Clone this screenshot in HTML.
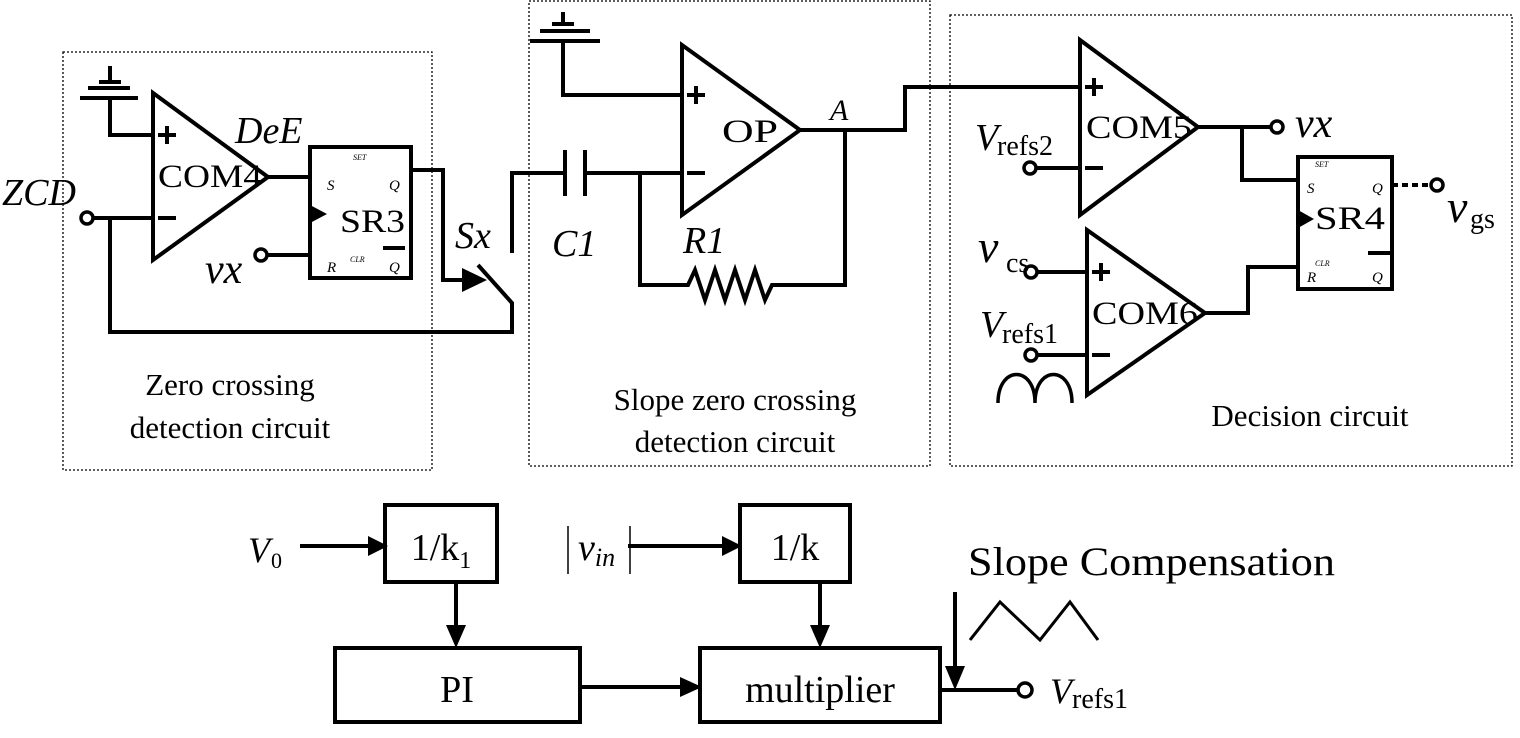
<!DOCTYPE html>
<html><head><style>
html,body{margin:0;padding:0;background:#fff;}
svg{display:block;}
text{font-family:"Liberation Serif",serif;fill:#000;}
</style></head><body>
<svg width="1520" height="738" viewBox="0 0 1520 738" xmlns="http://www.w3.org/2000/svg">
<g fill="none" stroke="#000" stroke-width="1.3" stroke-dasharray="2,2">
<rect x="63" y="52" width="369" height="418"/>
<rect x="529" y="1" width="401" height="465"/>
<rect x="950" y="15" width="562" height="451"/>
</g>
<g fill="none" stroke="#000" stroke-width="4">
<polygon points="153,93 153,260 268,177"/>
<polyline points="110,66 110,82"/>
<polyline points="110,98 110,135 153,135"/>
<line x1="99" y1="82" x2="121" y2="82"/><line x1="88" y1="88" x2="130" y2="88"/><line x1="80" y1="98" x2="138" y2="98"/>
<line x1="93" y1="218" x2="153" y2="218"/>
<polyline points="110,218 110,332 512,332 512,303 478,265"/>
<line x1="268" y1="177" x2="310" y2="177"/>
<rect x="310" y="147" width="101" height="131"/>
<line x1="266" y1="255" x2="310" y2="255"/>
<polyline points="411,170 443,170 443,280 470,280"/>
<polyline points="512,253 512,173 565,173"/>
<line x1="565" y1="150" x2="565" y2="196"/><line x1="585" y1="150" x2="585" y2="196"/>
<line x1="585" y1="173" x2="682" y2="173"/>
<polygon points="682,45 682,215 800,130"/>
<polyline points="563,12 563,24"/>
<polyline points="563,41 563,95 682,95"/>
<line x1="552" y1="24" x2="574" y2="24"/><line x1="540" y1="31" x2="590" y2="31"/><line x1="530" y1="41" x2="600" y2="41"/>
<polyline points="640,173 640,285 688,285 695,270 705,300 715,270 725,300 735,270 745,300 755,270 765,300 772,285 845,285 845,130"/>
<polyline points="800,130 905,130 905,87 1080,87"/>
<polygon points="1080,40 1080,215 1198,127"/>
<line x1="1036" y1="168" x2="1080" y2="168"/>
<line x1="1198" y1="127" x2="1271" y2="127"/>
<polyline points="1242,127 1242,180 1298,180"/>
<rect x="1298" y="157" width="94" height="132"/>
<polygon points="1087,230 1087,395 1205,313"/>
<line x1="1037" y1="272" x2="1087" y2="272"/>
<line x1="1037" y1="355" x2="1087" y2="355"/>
<polyline points="1205,313 1248,313 1248,267 1298,267"/>
<path d="M998,403 C998,365 1035,365 1035,403 C1035,365 1072,365 1072,403" stroke-width="3.5"/>
<rect x="385" y="505" width="112" height="77"/>
<rect x="740" y="505" width="110" height="77"/>
<rect x="335" y="648" width="245" height="74"/>
<rect x="700" y="648" width="240" height="74"/>
<line x1="300" y1="546" x2="370" y2="546"/>
<line x1="628" y1="546" x2="725" y2="546"/>
<line x1="456" y1="582" x2="456" y2="630"/>
<line x1="820" y1="582" x2="820" y2="630"/>
<line x1="580" y1="687" x2="685" y2="687"/>
<line x1="940" y1="690" x2="1019" y2="690"/>
<line x1="955" y1="592" x2="955" y2="670"/>
<polyline points="970,640 1000,602 1040,640 1070,602 1098,640" stroke-width="3"/>
</g>
<line x1="1392" y1="185" x2="1431" y2="185" stroke="#000" stroke-width="4" stroke-dasharray="6,4"/>
<g fill="#000" stroke="none">
<polygon points="310,205 327,214 310,223"/>
<polygon points="1298,210 1314,219 1298,228"/>
<polygon points="462,268 487,280 462,292"/>
<polygon points="368,536 388,546 368,556"/>
<polygon points="722,536 742,546 722,556"/>
<polygon points="446,625 456,648 466,625"/>
<polygon points="810,625 820,648 830,625"/>
<polygon points="680,677 702,687 680,697"/>
<polygon points="945,666 955,690 965,666"/>
<rect x="383" y="246" width="22" height="4"/>
<rect x="1368" y="251" width="22" height="4"/>
<rect x="158" y="133" width="18" height="4"/><rect x="165" y="126" width="4" height="18"/>
<rect x="158" y="216" width="18" height="4"/>
<rect x="687" y="93" width="18" height="4"/><rect x="694" y="86" width="4" height="18"/>
<rect x="687" y="171" width="18" height="4"/>
<rect x="1085" y="85" width="18" height="4"/><rect x="1092" y="78" width="4" height="18"/>
<rect x="1085" y="166" width="18" height="4"/>
<rect x="1092" y="270" width="18" height="4"/><rect x="1099" y="263" width="4" height="18"/>
<rect x="1092" y="353" width="18" height="4"/>
</g>
<g fill="#fff" stroke="#000" stroke-width="3.5">
<circle cx="87" cy="218" r="6"/>
<circle cx="261" cy="255" r="6"/>
<circle cx="1030" cy="168" r="6"/>
<circle cx="1277" cy="127" r="6"/>
<circle cx="1437" cy="185" r="6"/>
<circle cx="1031" cy="272" r="6"/>
<circle cx="1031" cy="355" r="6"/>
<circle cx="1025" cy="690" r="7"/>
</g>
<g font-size="33">
<text x="158" y="187" textLength="104" lengthAdjust="spacingAndGlyphs">COM4</text>
<text x="340" y="232" textLength="65" lengthAdjust="spacingAndGlyphs">SR3</text>
<text x="722" y="142" textLength="56" lengthAdjust="spacingAndGlyphs">OP</text>
<text x="1086" y="138" textLength="106" lengthAdjust="spacingAndGlyphs">COM5</text>
<text x="1092" y="324" textLength="106" lengthAdjust="spacingAndGlyphs">COM6</text>
<text x="1315" y="229" textLength="70" lengthAdjust="spacingAndGlyphs">SR4</text>
</g>
<g font-style="italic">
<text x="2" y="205" font-size="38">ZCD</text>
<text x="235" y="143" font-size="38">DeE</text>
<text x="205" y="283" font-size="42">vx</text>
<text x="455" y="248" font-size="38">Sx</text>
<text x="552" y="256" font-size="38">C1</text>
<text x="683" y="253" font-size="38">R1</text>
<text x="830" y="120" font-size="30">A</text>
<text x="1295" y="137" font-size="42">vx</text>
<text x="1447" y="222" font-size="46">v</text>
<text x="978" y="262" font-size="46">v</text>
<text x="975" y="150" font-size="38">V</text>
<text x="980" y="337" font-size="38">V</text>
<text x="248" y="562" font-size="36">V</text>
<text x="578" y="560" font-size="38">v<tspan font-size="26" dy="6">in</tspan></text>
<text x="1050" y="703" font-size="36">V</text>
<g font-size="15"><text x="327" y="190">S</text><text x="389" y="190">Q</text><text x="327" y="272">R</text><text x="389" y="272">Q</text>
<text x="1307" y="193">S</text><text x="1372" y="193">Q</text><text x="1307" y="282">R</text><text x="1372" y="282">Q</text></g>
<g font-size="8"><text x="353" y="160">SET</text><text x="350" y="262">CLR</text><text x="1315" y="167">SET</text><text x="1315" y="266">CLR</text></g>
</g>
<g font-size="28">
<text x="1470" y="228">gs</text>
<text x="1006" y="272">cs</text>
<text x="997" y="155">refs2</text>
<text x="1002" y="343">refs1</text>
<text x="1072" y="708">refs1</text>
<text x="271" y="568" font-size="22">0</text>
</g>
<g font-size="31" text-anchor="middle">
<text x="230" y="395">Zero crossing</text>
<text x="230" y="438">detection circuit</text>
<text x="735" y="410">Slope zero crossing</text>
<text x="735" y="452">detection circuit</text>
<text x="1310" y="426">Decision circuit</text>
</g>
<g font-size="38">
<text x="441" y="560" text-anchor="middle">1/k<tspan font-size="24" dy="8">1</tspan></text>
<text x="795" y="560" text-anchor="middle">1/k</text>
<text x="457" y="702" text-anchor="middle">PI</text>
<text x="820" y="702" text-anchor="middle">multiplier</text>
<text x="968" y="575" font-size="40" textLength="367" lengthAdjust="spacingAndGlyphs">Slope Compensation</text>
</g>
<g stroke="#000" stroke-width="1.5"><line x1="568" y1="526" x2="568" y2="574"/><line x1="630" y1="526" x2="630" y2="574"/></g>
</svg>
</body></html>
